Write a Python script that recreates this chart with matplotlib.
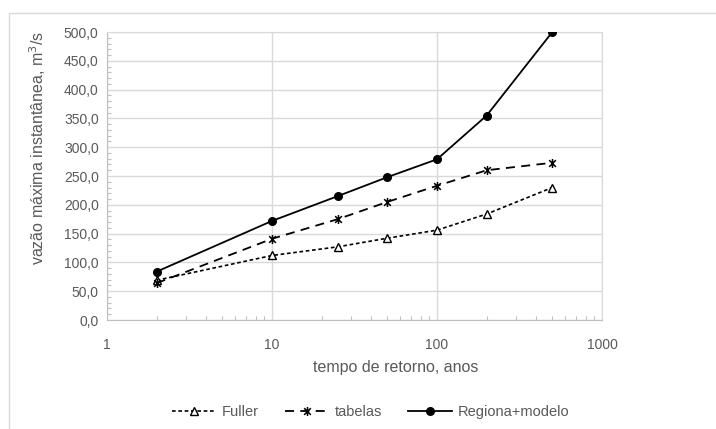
import matplotlib
matplotlib.use('Agg')
import matplotlib.pyplot as plt
import matplotlib.patches as mpatches
from matplotlib.path import Path
from matplotlib.ticker import FuncFormatter, LogLocator, MultipleLocator, NullFormatter

plt.rcParams['font.family'] = ['Liberation Sans', 'DejaVu Sans']

# ── data ─────────────────────────────────────────────────────────────────────
return_period = [2, 10, 25, 50, 100, 200, 500]
fuller  = [69, 112, 127, 142, 156, 184, 230]
tabelas = [64, 141, 175, 205, 233, 260, 273]
regiona = [84, 172, 215, 248, 279, 355, 500]

TXT = '#595959'
GRID = '#d9d9d9'

# Excel-style asterisk: X plus a vertical stroke
star = Path([(-1, -1), (1, 1), (-1, 1), (1, -1), (0, -1.35), (0, 1.35)],
            [Path.MOVETO, Path.LINETO, Path.MOVETO, Path.LINETO,
             Path.MOVETO, Path.LINETO])

fig = plt.figure(figsize=(7.16, 4.29), dpi=100)
ax = fig.add_axes([107 / 716, 1 - 320 / 429, 495 / 716, 288 / 429])

# outer chart frame
fig.patches.append(mpatches.Rectangle((9 / 716, -0.05), 1.0, 1 - 13 / 429 + 0.05,
                                      transform=fig.transFigure, fill=False,
                                      edgecolor=GRID, linewidth=1.0))

ax.plot(return_period, fuller, linestyle=(0, (2.2, 1.6)), color='black',
        linewidth=1.2, marker='^', markersize=5.5, markerfacecolor='white',
        markeredgecolor='black', markeredgewidth=1.0, label='Fuller', zorder=3)
ax.plot(return_period, tabelas, linestyle=(0, (5, 3.5)), color='black',
        linewidth=1.3, marker=star, markersize=6.5, markeredgecolor='black',
        markeredgewidth=1.1, label='tabelas', zorder=3)
ax.plot(return_period, regiona, linestyle='-', color='black',
        linewidth=1.3, marker='o', markersize=5.5, label='Regiona+modelo', zorder=3)

ax.set_xscale('log')
ax.set_xlim(1, 1000)
ax.set_ylim(0, 500)
ax.yaxis.set_major_locator(MultipleLocator(50))
ax.yaxis.set_minor_locator(MultipleLocator(10))
ax.yaxis.set_major_formatter(FuncFormatter(lambda v, p: f'{v:.1f}'.replace('.', ',')))
ax.xaxis.set_major_locator(LogLocator(base=10))
ax.xaxis.set_minor_locator(LogLocator(base=10, subs=range(2, 10)))
ax.xaxis.set_minor_formatter(NullFormatter())
ax.xaxis.set_major_formatter(FuncFormatter(lambda v, p: f'{v:g}'))

ax.grid(True, which='major', color=GRID, linewidth=1.0, zorder=0)
ax.set_axisbelow(True)
for s in ax.spines.values():
    s.set_color(GRID)
ax.spines['left'].set_color('#bfbfbf')
ax.spines['bottom'].set_color('#bfbfbf')

ax.tick_params(which='major', length=0, labelsize=10, labelcolor=TXT, pad=6)
ax.tick_params(axis='x', which='major', pad=13)
ax.tick_params(which='minor', direction='in', length=3, color='#bfbfbf', width=0.8)
ax.tick_params(axis='x', which='minor', top=False)
ax.tick_params(axis='y', which='minor', right=False)

ax.set_xlabel('tempo de retorno, anos', fontsize=11.5, color=TXT)
ax.xaxis.set_label_coords(0.584, -0.14)
ax.set_ylabel('vazão máxima instantânea, m$^3$/s', fontsize=11.5, color=TXT)
ax.yaxis.set_label_coords(-0.119, 0.597)

fig.legend(loc='center', bbox_to_anchor=(371 / 716, 1 - 412 / 429), ncol=3,
           frameon=False, fontsize=10.5, labelcolor=TXT, handlelength=3.0,
           handletextpad=0.4, columnspacing=1.8)

fig.savefig('out.png', dpi=100)
